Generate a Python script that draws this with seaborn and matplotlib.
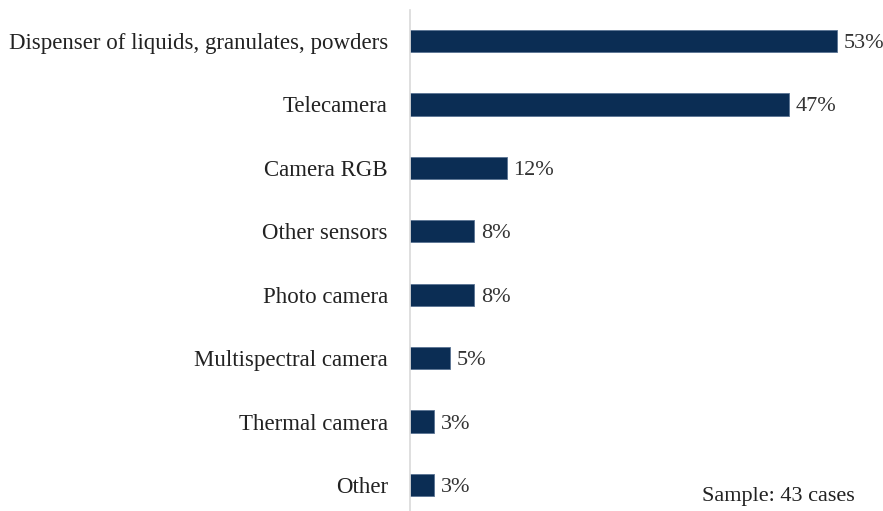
import matplotlib
matplotlib.use("Agg")
import matplotlib.pyplot as plt
import seaborn as sns
import pandas as pd

categories = [
    "Dispenser of liquids, granulates, powders",
    "Telecamera",
    "Camera RGB",
    "Other sensors",
    "Photo camera",
    "Multispectral camera",
    "Thermal camera",
    "Other",
]
shares = [53, 47, 12, 8, 8, 5, 3, 3]
sample_note = "Sample: 43 cases"

df = pd.DataFrame({"category": categories, "share": shares})

sns.set_theme(style="white")
plt.rcParams["font.family"] = ["Liberation Serif", "DejaVu Serif"]

fig = plt.figure(figsize=(8.83, 5.11), dpi=100)
ax = fig.add_axes([410 / 883, 0.0, 1 - 410 / 883, 1 - 10 / 511])

navy = "#0B2D54"
sns.barplot(data=df, x="share", y="category", orient="h", color=navy,
            width=0.35, saturation=1, ax=ax, edgecolor="#5a7393", linewidth=0.6)

ax.set_xlim(0, 58.7)
ax.set_ylim(len(categories) - 0.59, -0.49)

for i, v in enumerate(shares):
    ax.text(v + 0.8, i, f"{v}%", va="center_baseline", ha="left",
            fontsize=16, color="#333333")

ax.set_xlabel("")
ax.set_ylabel("")
ax.set_xticks([])
ax.tick_params(axis="y", length=0, pad=16, labelsize=16.5, labelcolor="#222222")
for label in ax.get_yticklabels():
    label.set_verticalalignment("center_baseline")
for side in ["top", "right", "bottom"]:
    ax.spines[side].set_visible(False)
ax.spines["left"].set_color("#d9d9d9")
ax.spines["left"].set_linewidth(1.2)

fig.text(702 / 883, 1 - 494 / 511, sample_note, ha="left", va="center_baseline",
         fontsize=16, color="#222222")

fig.savefig("out.png", dpi=100)
